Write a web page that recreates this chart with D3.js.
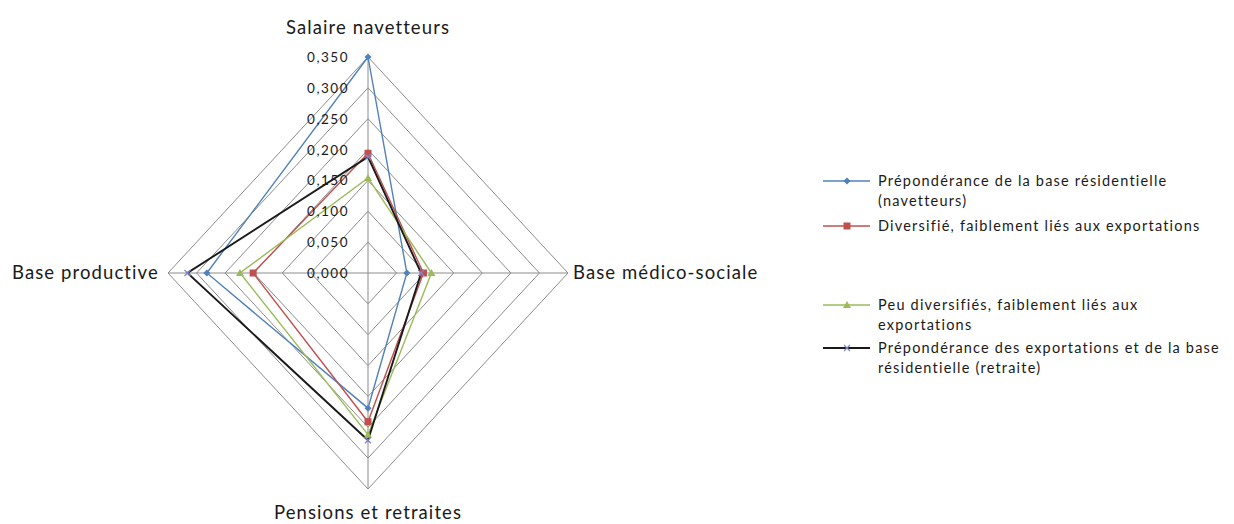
<!DOCTYPE html>
<html><head><meta charset="utf-8">
<script src="https://cdn.jsdelivr.net/npm/d3@7"></script>
<style>body{margin:0;background:#fff}svg{display:block}text{font-family:Lato,"Open Sans",sans-serif;fill:#1a1a1a}</style>
</head><body>
<svg id="c" width="1234" height="524"></svg>
<script>
const axes = ["Salaire navetteurs","Base médico-sociale","Pensions et retraites","Base productive"];
const ticks = [0,0.05,0.1,0.15,0.2,0.25,0.3,0.35];
const tickLabels = ["0,000","0,050","0,100","0,150","0,200","0,250","0,300","0,350"];
const seriesNames = [
  ["Prépondérance de la base résidentielle","(navetteurs)"],
  ["Diversifié, faiblement liés aux exportations"],
  ["Peu diversifiés, faiblement liés aux","exportations"],
  ["Prépondérance des exportations et de la base","résidentielle (retraite)"]
];
const sBlue  = [0.350, 0.068, 0.219, 0.282];
const sRed   = [0.194, 0.097, 0.241, 0.201];
const sGreen = [0.154, 0.111, 0.262, 0.224];
const sBlack = [0.188, 0.093, 0.271, 0.316];
const seriesValues = [sBlue, sRed, sGreen, sBlack];
const colors = ["#4F81BD","#C0504D","#9BBB59","#1a1a1a"];
const markerColors = ["#4F81BD","#C0504D","#9BBB59","#7F86C8"];
const markers = ["diamond","square","triangle","x"];

const svg = d3.select("#c");
const cx = 368, cy = 273;
const rx = d3.scaleLinear().domain([0,0.35]).range([0,200]);
const ry = d3.scaleLinear().domain([0,0.35]).range([0,216]);
const ang = axes.map((d,i)=> i*Math.PI/2);
const pt = (v,i)=> [cx + Math.sin(ang[i])*rx(v), cy - Math.cos(ang[i])*ry(v)];

// grid
const g = svg.append("g");
ticks.slice(1).forEach(t=>{
  g.append("path").attr("d", d3.line()(axes.map((a,i)=>pt(t,i))) + "Z")
   .attr("fill","none").attr("stroke","#8c8c8c").attr("stroke-width",1);
});
axes.forEach((a,i)=>{
  const p = pt(0.35,i);
  g.append("line").attr("x1",cx).attr("y1",cy).attr("x2",p[0]).attr("y2",p[1])
   .attr("stroke","#8c8c8c").attr("stroke-width",1);
});

// series
seriesValues.forEach((vals,s)=>{
  const pts = vals.map((v,i)=>pt(v,i));
  svg.append("path").attr("d", d3.line()(pts)+"Z").attr("fill","none")
    .attr("stroke",colors[s]).attr("stroke-width", s===3?1.9:1.4);
});
function drawMarker(sel, type, x, y, col){
  if(type==="diamond") sel.append("path").attr("d",`M${x},${y-3.5}L${x+3.5},${y}L${x},${y+3.5}L${x-3.5},${y}Z`).attr("fill",col);
  else if(type==="square") sel.append("rect").attr("x",x-3.5).attr("y",y-3.5).attr("width",7).attr("height",7).attr("fill",col);
  else if(type==="triangle") sel.append("path").attr("d",`M${x},${y-4}L${x+4},${y+3}L${x-4},${y+3}Z`).attr("fill",col);
  else sel.append("path").attr("d",`M${x-3},${y-3}L${x+3},${y+3}M${x-3},${y+3}L${x+3},${y-3}`).attr("stroke",col).attr("stroke-width",1.2);
}
seriesValues.forEach((vals,s)=>{
  vals.forEach((v,i)=>{ const p=pt(v,i); drawMarker(svg, markers[s], p[0], p[1], markerColors[s]); });
});

// tick labels
ticks.forEach((t,k)=>{
  svg.append("text").attr("x",cx-19).attr("y",cy-ry(t)+5).attr("text-anchor","end")
    .attr("font-size",13.5).attr("letter-spacing",1.5).text(tickLabels[k]);
});

// axis labels
const al = {fs:18.5, ls:1.1};
svg.append("text").attr("x",cx).attr("y",34).attr("text-anchor","middle").attr("font-size",al.fs).attr("letter-spacing",al.ls).text(axes[0]);
svg.append("text").attr("x",573).attr("y",279).attr("text-anchor","start").attr("font-size",al.fs).attr("letter-spacing",al.ls).text(axes[1]);
svg.append("text").attr("x",cx).attr("y",519).attr("text-anchor","middle").attr("font-size",al.fs).attr("letter-spacing",al.ls).text(axes[2]);
svg.append("text").attr("x",12).attr("y",279).attr("text-anchor","start").attr("font-size",al.fs).attr("letter-spacing",al.ls).text(axes[3]);

// legend
const legY = [181, 226, 305, 348];
seriesNames.forEach((lines,s)=>{
  const y = legY[s];
  svg.append("line").attr("x1",823).attr("x2",870).attr("y1",y).attr("y2",y)
    .attr("stroke",colors[s]).attr("stroke-width",s===3?1.9:1.4);
  drawMarker(svg, markers[s], 847, y, markerColors[s]);
  lines.forEach((ln,j)=>{
    svg.append("text").attr("x",878).attr("y",y+5+j*19.5).attr("font-size",14.5).attr("letter-spacing",1.2).text(ln);
  });
});
</script>
</body></html>
